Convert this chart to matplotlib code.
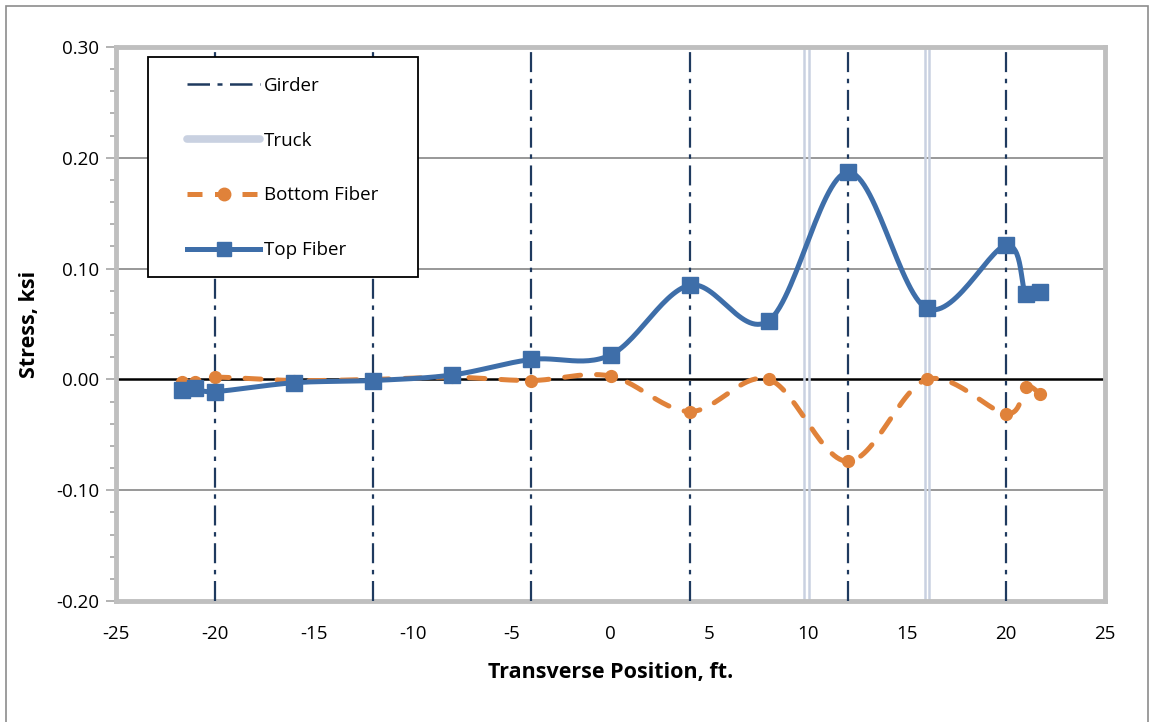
import numpy as np
import matplotlib
matplotlib.use("Agg")
import matplotlib.pyplot as plt
from matplotlib.lines import Line2D
from matplotlib.patches import Rectangle

# Measured stresses across the deck
position = [-21.67, -21.0, -20.0, -16.0, -12.0, -8.0, -4.0, 0.0, 4.0, 8.0, 12.0, 16.0, 20.0, 21.0, 21.7]
top_fiber = [-0.010, -0.008, -0.011, -0.003, -0.001, 0.004, 0.018, 0.022, 0.085, 0.053, 0.187, 0.064, 0.121, 0.077, 0.079]
bottom_fiber = [-0.002, -0.002, 0.002, -0.001, 0.000, 0.002, -0.001, 0.003, -0.029, 0.000, -0.074, 0.000, -0.031, -0.007, -0.013]

girders = [-20, -12, -4, 4, 12, 20]
trucks = [9.8, 10.05, 15.9, 16.1]

x_ticks = [-25, -20, -15, -10, -5, 0, 5, 10, 15, 20, 25]
y_ticks = [-0.20, -0.10, 0.00, 0.10, 0.20, 0.30]

TOP_C = "#3E6EA9"
BOT_C = "#E0823A"
GIRDER_C = "#1F3A5F"
TRUCK_C = "#C9D1E1"
GIRDER_LS = (0, (9, 3, 2, 3))

plt.rcParams["font.family"] = ["Open Sans", "DejaVu Sans"]


def smooth(xs, ys, n=30):
    """Bezier smoothing through every point (Catmull-Rom style control points)."""
    p = np.column_stack([xs, ys]).astype(float)
    ext = np.vstack([p[0], p, p[-1]])
    out = []
    t = np.linspace(0, 1, n)[:, None]
    for i in range(1, len(ext) - 2):
        p0, p1, p2, p3 = ext[i - 1], ext[i], ext[i + 1], ext[i + 2]
        c1 = p1 + (p2 - p0) / 6.0
        c2 = p2 - (p3 - p1) / 6.0
        seg = ((1 - t) ** 3) * p1 + 3 * ((1 - t) ** 2) * t * c1 + 3 * (1 - t) * t ** 2 * c2 + t ** 3 * p2
        out.append(seg if i == 1 else seg[1:])
    s = np.vstack(out)
    return s[:, 0], s[:, 1]


fig = plt.figure(figsize=(11.51, 7.22), dpi=100)
ax = fig.add_axes([116 / 1151, 1 - 601 / 722, (1105 - 116) / 1151, (601 - 47) / 722])

ax.set_xlim(-25, 25)
ax.set_ylim(-0.20, 0.30)

# gridlines
for yv in [-0.10, 0.10, 0.20]:
    ax.axhline(yv, color="#868686", lw=1.2, zorder=1)
ax.axhline(0.0, color="black", lw=1.8, zorder=2)

# truck wheel lines
for xv in trucks:
    ax.axvline(xv, color=TRUCK_C, lw=1.8, zorder=2)

# girder lines
for xv in girders:
    ax.axvline(xv, color=GIRDER_C, lw=1.6, ls=GIRDER_LS, zorder=3)

bx, by = smooth(position, bottom_fiber)
ax.plot(bx, by, color=BOT_C, lw=3.6, ls=(0, (3.2, 3.2)), dash_capstyle="round", zorder=4)
ax.plot(position, bottom_fiber, ls="none", marker="o", ms=8.5, color=BOT_C, zorder=5)

tx, ty = smooth(position, top_fiber)
ax.plot(tx, ty, color=TOP_C, lw=3.6, solid_capstyle="round", zorder=6)
ax.plot(position, top_fiber, ls="none", marker="s", ms=11, color=TOP_C, zorder=7)

ax.set_xticks(x_ticks)
ax.set_xticklabels([f"{v:d}" for v in x_ticks])
ax.set_yticks(y_ticks)
ax.set_yticklabels([f"{v:.2f}" for v in y_ticks])
ax.set_yticks(np.arange(-0.20, 0.301, 0.02), minor=True)
ax.tick_params(axis="both", labelsize=13.5, colors="black", pad=5)
ax.tick_params(axis="y", which="major", length=7, width=1.2, color="#A6A6A6", direction="out")
ax.tick_params(axis="y", which="minor", length=4, width=1.2, color="#A6A6A6", direction="out")
ax.tick_params(axis="x", which="major", length=0, pad=17)

for sp in ax.spines.values():
    sp.set_color("#BFBFBF")
    sp.set_linewidth(3.5)

ax.set_xlabel("Transverse Position, ft.", fontsize=15.5, fontweight="bold", labelpad=14)
ax.set_ylabel("Stress, ksi", fontsize=15.5, fontweight="bold", labelpad=12)

handles = [
    Line2D([], [], color=GIRDER_C, lw=1.8, ls=(0, (9, 3, 2, 3))),
    Line2D([], [], color=TRUCK_C, lw=5.5, solid_capstyle="round"),
    Line2D([], [], color=BOT_C, lw=3.6, ls=(0, (3, 2.5)), marker="o", ms=9),
    Line2D([], [], color=TOP_C, lw=3.6, marker="s", ms=10),
]
leg = ax.legend(handles, ["Girder", "Truck", "Bottom Fiber", "Top Fiber"],
                loc="upper left", bbox_to_anchor=((187 - 116) / 989, 1 - (77 - 47) / 554),
                frameon=False, fontsize=13.5, labelspacing=1.96,
                handlelength=3.9, handletextpad=0.2, borderpad=0,
                borderaxespad=0)
leg.set_zorder(10)

# legend box
ax.add_patch(Rectangle(((148 - 116) / 989, 1 - (277 - 47) / 554), (418 - 148) / 989, (277 - 57) / 554,
                       transform=ax.transAxes, facecolor="white", edgecolor="black",
                       lw=1.3, zorder=9))

# outer chart border
fig.patches.append(Rectangle((6 / 1151, -0.01), (1148 - 6) / 1151, 1 - 6 / 722 + 0.01,
                             transform=fig.transFigure, fill=False,
                             edgecolor="#8C8C8C", lw=1.2))

fig.savefig("out.png", dpi=100)
